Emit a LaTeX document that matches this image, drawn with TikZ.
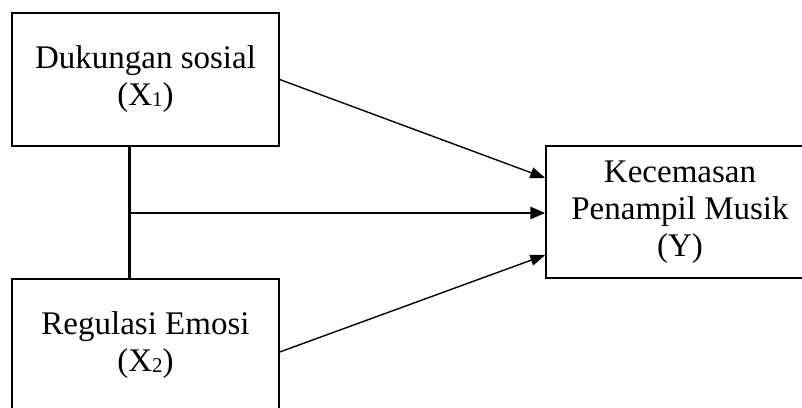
\documentclass[tikz,border=0pt]{standalone}
\usepackage{fontspec}
\setmainfont{Liberation Serif}
\usetikzlibrary{arrows.meta}
\begin{document}
\begin{tikzpicture}[x=1pt,y=-1pt,
  box/.style={draw,line width=1.4pt,rectangle,align=center,inner sep=0pt,
    font=\fontsize{33}{37}\selectfont},
  thin arrow/.style={line width=1.4pt,-{Triangle[length=15pt,width=11pt]}},
  thick line/.style={line width=2.8pt},
  thick arrow/.style={line width=2.8pt,-{Triangle[length=15pt,width=12pt]}}]
\useasboundingbox (0,0) rectangle (802,407);
\clip (0,0) rectangle (802,407);
\newcommand{\subidx}[1]{\raisebox{-1pt}{\fontsize{21}{21}\selectfont #1}}
\node[box,minimum width=267pt,minimum height=133pt] (top) at (145.5,79.5)
  {Dukungan sosial\\(X\subidx{1})};
\node[box,minimum width=267pt,minimum height=133pt] (bot) at (145.5,345.5)
  {Regulasi Emosi\\(X\subidx{2})};
\node[box,minimum width=268pt,minimum height=132pt] (Y) at (680,212)
  {Kecemasan\\Penampil Musik\\(Y)};
\coordinate (vt) at ([xshift=118pt]top.south west);
\coordinate (vb) at ([xshift=118pt]bot.north west);
\coordinate (e) at ([yshift=-1pt]Y.west);
\coordinate (j) at (vt |- e);
\draw[thick line] (vt) -- (vb);
\draw[thick arrow] (j) -- (e);
\draw[thin arrow] (top.east) -- ([yshift=34pt]Y.west);
\draw[thin arrow] ([yshift=-6.5pt]bot.east) -- ([yshift=-43pt]Y.west);
\end{tikzpicture}
\end{document}
